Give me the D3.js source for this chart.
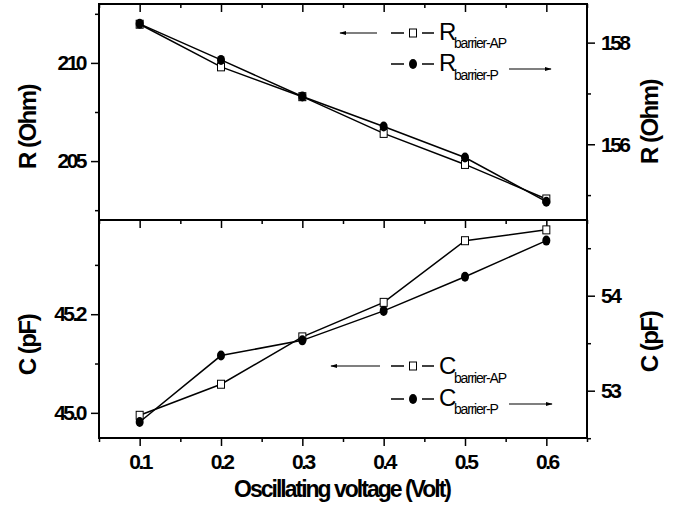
<!DOCTYPE html>
<html>
<head>
<meta charset="utf-8">
<script src="https://cdn.jsdelivr.net/npm/d3@7"></script>
<style>
  body { margin: 0; background: #fff; }
  svg { display: block; font-family: "Liberation Sans", Arial, sans-serif; }
</style>
</head>
<body>
<div id="chart"></div>
<script>
// oscillating voltage (Volt)
const voltage = [0.1, 0.2, 0.3, 0.4, 0.5, 0.6]
const xTicks = [0.1, 0.2, 0.3, 0.4, 0.5, 0.6]
// top panel: resistance
const rAP = [211.97, 209.8, 208.28, 206.41, 204.83, 203.07]  // left axis
const rP = [158.37, 157.66, 156.94, 156.35, 155.74, 154.87]  // right axis
// bottom panel: capacitance
const cAP = [44.995, 45.058, 45.154, 45.224, 45.349, 45.371] // left axis
const cP = [52.67, 53.37, 53.53, 53.84, 54.2, 54.58]         // right axis

const width = 680
const height = 511
const left = 99, right = 587
const topY = 4, midY = 220, botY = 438

const svg = d3.create('svg')
  .attr('width', width)
  .attr('height', height)
  .attr('viewBox', [0, 0, width, height])

const x = d3.scaleLinear().domain([0.05, 0.65]).range([left, right])

const yRL = d3.scaleLinear().domain([202, 213]).range([midY, topY])
const yRR = d3.scaleLinear().domain([154.51, 158.76]).range([midY, topY])
const yCL = d3.scaleLinear().domain([44.949, 45.391]).range([botY, midY])
const yCR = d3.scaleLinear().domain([52.502, 54.797]).range([botY, midY])

const tickFont = g => g
  .attr('font-size', 21)
  .attr('font-weight', 'bold')
  .attr('letter-spacing', -2.5)
  .attr('font-family', '"Liberation Sans", Arial, sans-serif')

// draw one axis with major + minor ticks
function axis(gen, scale, major, minor, fmt, transform, labels = true) {
  const g = svg.append('g').attr('transform', transform)
  g.call(gen(scale).tickValues(minor).tickSize(4).tickFormat(''))
    .call(g => g.select('.domain').remove())
    .call(g => g.selectAll('line').attr('stroke-width', 1.5))
  const g2 = svg.append('g').attr('transform', transform)
  g2.call(gen(scale).tickValues(major).tickSize(8).tickPadding(6).tickFormat(labels ? fmt : ''))
    .call(g => g.select('.domain').remove())
    .call(g => g.selectAll('line').attr('stroke-width', 1.5))
    .call(tickFont)
  return g2
}

const minorX = [0.05, 0.15, 0.25, 0.35, 0.45, 0.55, 0.65]
// bottom x axis
axis(d3.axisBottom, x, xTicks, minorX, d3.format('.1f'), `translate(0,${botY})`)
  .selectAll('text').attr('dy', '0.8em')
// top of top panel (inward)
axis(d3.axisBottom, x, xTicks, minorX, d3.format('.1f'), `translate(0,${topY})`, false)
// divider (ticks point down)
axis(d3.axisBottom, x, xTicks, minorX, d3.format('.1f'), `translate(0,${midY})`, false)

axis(d3.axisLeft, yRL, [205, 210], [202.5, 207.5, 212.5], d3.format('d'), `translate(${left},0)`)
axis(d3.axisRight, yRR, [156, 158], [155, 157], d3.format('d'), `translate(${right},0)`)
axis(d3.axisLeft, yCL, [45.0, 45.2], [45.1, 45.3], d3.format('.1f'), `translate(${left},0)`)
axis(d3.axisRight, yCR, [53, 54], [52.5, 53.5, 54.5], d3.format('d'), `translate(${right},0)`)

// frame
svg.append('g')
  .attr('fill', 'none')
  .attr('stroke', '#000')
  .attr('stroke-width', 2)
  .call(g => g.append('rect')
    .attr('x', left).attr('y', topY)
    .attr('width', right - left).attr('height', botY - topY))
  .call(g => g.append('line')
    .attr('x1', left).attr('x2', right)
    .attr('y1', midY).attr('y2', midY))

// series
const series = [
  {vals: rAP, y: yRL, marker: 'square'},
  {vals: rP, y: yRR, marker: 'circle'},
  {vals: cAP, y: yCL, marker: 'square'},
  {vals: cP, y: yCR, marker: 'circle'},
]

const line = d3.line()

series.forEach(s => {
  const pts = voltage.map((v, i) => [x(v), s.y(s.vals[i])])
  svg.append('path')
    .attr('d', line(pts))
    .attr('fill', 'none')
    .attr('stroke', '#000')
    .attr('stroke-width', 1.5)
  drawMarkers(svg.append('g'), pts, s.marker)
})

function drawMarkers(g, pts, type) {
  if (type === 'square') {
    g.selectAll('rect').data(pts).join('rect')
      .attr('x', d => d[0] - 3.5)
      .attr('y', d => d[1] - 4)
      .attr('width', 7)
      .attr('height', 8)
      .attr('fill', '#fff')
      .attr('stroke', '#000')
      .attr('stroke-width', 1)
  } else {
    g.selectAll('ellipse').data(pts).join('ellipse')
      .attr('cx', d => d[0])
      .attr('cy', d => d[1])
      .attr('rx', 4)
      .attr('ry', 5)
      .attr('fill', '#000')
  }
}

// arrow markers
svg.append('defs').append('marker')
  .attr('id', 'arrow')
  .attr('viewBox', '0 0 10 10')
  .attr('refX', 9).attr('refY', 5)
  .attr('markerWidth', 6).attr('markerHeight', 6)
  .attr('orient', 'auto')
  .append('path')
  .attr('d', 'M0,2L10,5L0,8Z')
  .attr('fill', '#000')

function arrow(x1, x2, y) {
  svg.append('line')
    .attr('x1', x1).attr('x2', x2)
    .attr('y1', y).attr('y2', y)
    .attr('stroke', '#000')
    .attr('stroke-width', 1.2)
    .attr('marker-end', 'url(#arrow)')
}

function legendRow(y, marker, big, sub, bigSize, baseY, subY) {
  svg.append('line')
    .attr('x1', 391).attr('x2', 434)
    .attr('y1', y).attr('y2', y)
    .attr('stroke', '#000').attr('stroke-width', 1.5)
  svg.append('rect')
    .attr('x', 404).attr('y', y - 7)
    .attr('width', 18).attr('height', 14)
    .attr('fill', '#fff')
  drawMarkers(svg.append('g'), [[413, y]], marker)
  svg.append('text')
    .attr('x', 439).attr('y', baseY)
    .attr('font-size', bigSize)
    .text(big)
  svg.append('text')
    .attr('x', 454).attr('y', subY)
    .attr('font-size', 14)
    .attr('letter-spacing', -1.2)
    .text(sub)
}

legendRow(33, 'square', 'R', 'barrier-AP', 24, 40, 48)
legendRow(64, 'circle', 'R', 'barrier-P', 24, 71, 80)
arrow(377, 340, 33)
arrow(509, 551, 69)

legendRow(366, 'square', 'C', 'barrier-AP', 24, 374, 383)
legendRow(399, 'circle', 'C', 'barrier-P', 24, 406, 414)
arrow(380, 331, 366)
arrow(509, 552, 404)

// axis titles
const title = (txt, tx, ty, rot, size) => svg.append('text')
  .attr('transform', `translate(${tx},${ty}) rotate(${rot})`)
  .attr('text-anchor', 'middle')
  .attr('font-size', size)
  .attr('font-weight', 'bold')
  .attr('letter-spacing', -1.5)
  .text(txt)

title('R (Ohm)', 36, 127, -90, 24)
title('C (pF)', 36, 345, -90, 24)
title('R (Ohm)', 658, 122, -90, 24)
title('C (pF)', 658, 342, -90, 24)
title('Oscillating voltage (Volt)', 342, 497, 0, 23)
  .attr('letter-spacing', -2)

document.getElementById('chart').appendChild(svg.node())
</script>
</body>
</html>
